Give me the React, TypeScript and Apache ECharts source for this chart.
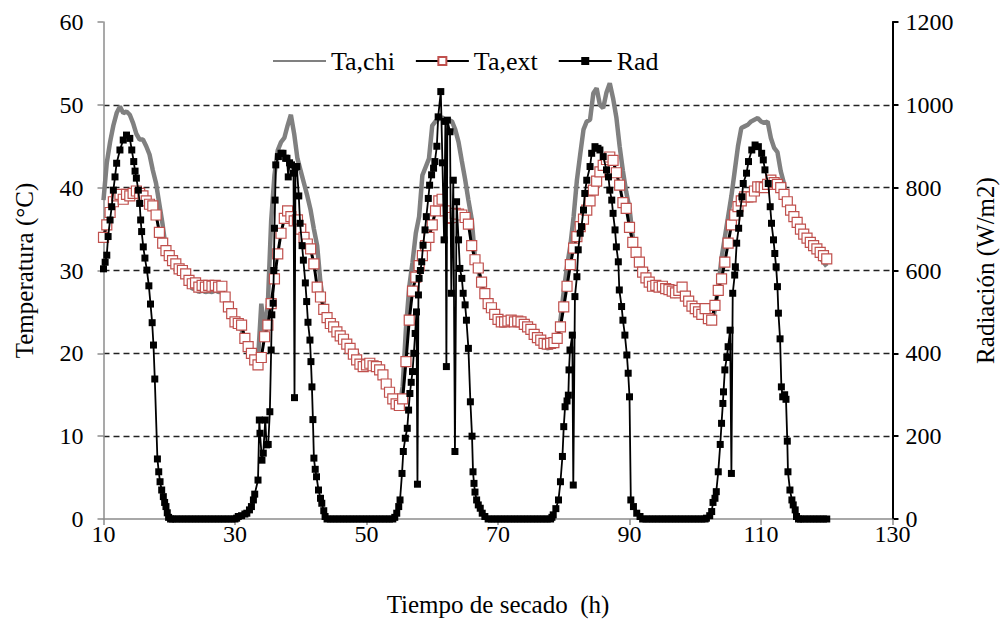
import React, { useEffect, useRef } from "react";
import * as echarts from "echarts";

// ---------- DATA ----------
const T_START = 10; // h
const T_STEP = 0.5; // h, sampling of the temperature series

// Ta,chi (°C) every 0.5 h from 10 h to 120 h
const taChi = [
  38.5, 43.0, 45.5, 47.5, 49.0, 49.8, 49.0, 49.2, 48.8, 47.8,
  46.5, 45.8, 45.8, 45.0, 44.0, 42.1, 40.5, 38.0, 35.5, 32.5,
  31.3, 30.8, 30.3, 29.8, 29.6, 29.2, 28.3, 27.8, 27.9, 27.4,
  27.6, 27.4, 27.5, 27.4, 27.6, 27.4, 27.5, 26.3, 25.2, 24.4,
  23.4, 23.1, 22.9, 21.4, 20.4, 19.7, 19.0, 19.2, 26.0, 22.5,
  26.0, 36.0, 41.5, 44.5, 45.5, 46.0, 47.5, 48.8, 46.5, 43.5,
  42.0, 40.5, 39.0, 37.3, 35.0, 33.0, 28.5, 25.8, 24.3, 23.3,
  22.8, 22.2, 21.7, 21.3, 20.7, 20.2, 19.5, 18.8, 18.3, 18.0,
  18.2, 18.4, 18.1, 18.0, 17.6, 17.0, 15.9, 14.9, 14.1, 13.5,
  13.4, 16.0, 23.0, 28.0, 31.0, 34.5, 36.5, 41.5, 42.5, 43.5,
  47.5, 48.0, 48.3, 48.5, 48.0, 48.2, 48.0, 47.0, 45.5, 43.2,
  41.0, 38.5, 36.2, 31.5, 30.0, 28.3, 26.9, 25.6, 25.1, 24.3,
  23.7, 23.4, 23.4, 23.5, 23.6, 23.4, 23.5, 23.4, 23.1, 22.8,
  22.5, 21.9, 21.5, 21.2, 20.8, 20.6, 20.7, 20.8, 21.5, 24.0,
  27.5, 30.5, 33.0, 36.5, 40.9, 44.0, 47.0, 48.0, 48.2, 51.4,
  52.0, 50.0, 49.6, 51.5, 52.6, 50.8, 48.5, 45.0, 42.0, 39.5,
  37.5, 34.0, 32.0, 30.6, 29.4, 28.7, 28.2, 27.7, 27.8, 27.6,
  27.7, 27.4, 27.3, 27.1, 26.9, 27.2, 27.6, 26.5, 25.9, 25.3,
  25.0, 24.6, 24.3, 25.0, 23.8, 23.6, 25.3, 28.0, 31.5, 34.0,
  36.5, 39.0, 42.0, 45.0, 47.2, 47.4, 47.6, 48.0, 48.2, 48.4,
  48.0, 47.8, 48.0, 46.0, 44.8, 44.3, 42.0, 40.5, 38.3, 37.0,
  36.1, 35.4, 34.6, 34.0, 33.5, 33.0, 32.6, 32.2, 31.6, 31.0,
  30.5,
];

// Ta,ext (°C) every 0.5 h from 10 h to 120 h
const taExt = [
  34.0, 35.5, 37.0, 38.3, 39.0, 39.2, 38.6, 39.2, 39.0, 39.3,
  39.6, 39.3, 39.0, 38.4, 38.0, 37.8, 36.7, 34.6, 33.3, 32.4,
  31.8, 31.2, 30.8, 30.2, 30.0, 29.6, 28.8, 28.4, 28.5, 28.0,
  28.2, 28.0, 28.2, 28.1, 28.2, 28.0, 28.1, 26.8, 25.6, 24.8,
  23.8, 23.6, 23.4, 21.8, 20.8, 20.0, 19.2, 18.6, 19.5, 22.0,
  23.4, 26.0, 29.0, 32.0, 34.5, 36.3, 37.2, 36.5, 36.0, 36.1,
  35.0, 34.0, 33.2, 32.6, 30.8, 28.0, 26.8, 25.3, 24.3, 23.6,
  23.2, 22.6, 22.1, 21.7, 21.1, 20.6, 19.9, 19.2, 18.7, 18.4,
  18.6, 18.8, 18.5, 18.4, 18.0, 17.4, 16.3, 15.3, 14.5, 13.9,
  13.7, 14.5, 19.0, 24.0, 27.5, 29.2, 30.6, 31.8, 33.0, 34.0,
  35.5, 37.2, 38.4, 38.6, 37.2, 36.3, 36.4, 36.9, 36.8, 36.7,
  36.4, 35.6, 33.0, 31.3, 30.3, 28.6, 27.2, 26.0, 25.5, 24.7,
  24.1, 23.8, 23.8, 23.9, 24.0, 23.8, 23.9, 23.8, 23.5, 23.2,
  22.9, 22.3, 21.9, 21.6, 21.2, 21.1, 21.2, 21.3, 21.8, 23.2,
  25.6, 28.1, 30.7, 32.7, 34.1, 35.3, 36.2, 37.3, 38.4, 39.7,
  40.8, 41.9, 42.7, 43.4, 43.7, 43.3, 41.8, 40.3, 38.2, 37.5,
  35.2, 33.4, 32.2, 31.0, 29.8, 29.1, 28.6, 28.1, 28.2, 28.0,
  28.1, 27.8, 27.7, 27.5, 27.3, 27.6, 28.0, 26.9, 26.3, 25.7,
  25.4, 25.0, 24.7, 25.4, 24.2, 24.0, 25.8, 27.6, 29.0, 31.0,
  33.3, 35.5, 36.7, 37.7, 38.4, 38.9, 38.9, 38.9, 39.6, 40.1,
  40.1, 40.0, 40.4, 40.9, 40.6, 40.4, 40.0, 39.2, 38.3, 37.3,
  36.5, 35.8, 35.0, 34.4, 33.9, 33.4, 33.0, 32.6, 32.2, 31.8,
  31.4,
];

// Rad (W/m2): [time h, radiation]
const radDay1 = [
  [10.0, 604], [10.25, 620], [10.5, 637], [10.7, 682], [11.0, 722], [11.25, 754],
  [11.5, 794], [11.75, 826], [12.0, 859], [12.5, 891], [13.0, 915], [13.5, 927],
  [14.0, 919], [14.3, 891], [14.6, 863], [14.8, 840], [15.0, 823], [15.3, 794],
  [15.5, 762], [15.65, 722], [15.8, 694], [16.05, 657], [16.3, 630], [16.6, 601],
  [16.9, 563], [17.15, 519], [17.4, 474], [17.6, 420], [17.8, 338], [18.2, 145],
  [18.4, 114], [18.6, 90], [18.85, 70], [19.1, 54], [19.3, 40], [19.5, 30],
  [19.7, 15], [19.9, 4], [20.2, 0],
];
const radNight1 = [
  [20.5, 0], [21, 0], [21.5, 0], [22, 0], [22.5, 0], [23, 0], [23.5, 0], [24, 0],
  [24.5, 0], [25, 0], [25.5, 0], [26, 0], [26.5, 0], [27, 0], [27.5, 0], [28, 0],
  [28.5, 0], [29, 0], [29.5, 0], [30, 0],
];
const radDay2 = [
  [30.25, 2], [30.5, 6], [31.0, 8], [31.5, 12], [31.8, 14], [32.2, 22], [32.5, 30],
  [32.8, 46], [33.0, 60], [33.5, 94], [33.7, 239], [33.8, 207], [34.1, 142],
  [34.3, 159], [34.6, 239], [34.8, 179], [35.05, 180], [35.3, 259], [35.5, 408],
  [35.6, 493], [35.8, 521], [35.9, 600], [36.0, 702], [36.1, 770], [36.2, 855],
  [36.6, 875], [37.0, 883], [37.3, 883], [37.7, 871], [37.9, 871], [38.1, 826],
  [38.3, 860], [38.6, 855], [38.9, 835], [39.05, 293], [39.2, 850], [39.4, 851],
  [39.7, 780], [39.9, 714], [40.2, 660], [40.4, 625], [40.7, 570], [40.9, 525],
  [41.1, 475], [41.4, 432], [41.55, 380], [41.7, 319], [41.85, 240], [42.0, 147],
  [42.2, 120], [42.4, 102], [42.7, 70], [43.0, 50], [43.2, 38], [43.5, 20],
  [43.7, 6], [44.0, 0],
];
const radNight2 = [
  [44.5, 0], [45, 0], [45.5, 0], [46, 0], [46.5, 0], [47, 0], [47.5, 0], [48, 0],
  [48.5, 0], [49, 0], [49.5, 0], [50, 0], [50.5, 0], [51, 0], [51.5, 0], [52, 0],
  [52.5, 0], [53, 0], [53.5, 0], [54, 0],
];
const radDay3 = [
  [54.3, 4], [54.6, 14], [54.9, 30], [55.1, 46], [55.4, 110], [55.6, 163],
  [55.9, 195], [56.2, 219], [56.4, 263], [56.6, 303], [56.8, 330], [57.0, 356],
  [57.2, 400], [57.4, 448], [57.6, 500], [57.75, 84], [57.9, 541], [58.0, 581],
  [58.2, 600], [58.4, 621], [58.6, 661], [58.9, 698], [59.1, 730], [59.4, 774],
  [59.6, 806], [59.9, 831], [60.2, 847], [60.4, 863], [60.7, 900], [60.9, 971],
  [61.3, 1032], [61.55, 860], [61.8, 674], [62.0, 960], [62.15, 368], [62.3, 963],
  [62.7, 935], [62.9, 545], [63.2, 818], [63.45, 163], [63.7, 766], [64.0, 674],
  [64.2, 605], [64.5, 581], [64.7, 545], [65.0, 517], [65.2, 480], [65.5, 412],
  [65.8, 283], [66.05, 200], [66.2, 114], [66.35, 86], [66.5, 65], [66.75, 46],
  [67.0, 34], [67.3, 26], [67.6, 14], [68.0, 6], [68.5, 0],
];
const radNight3 = [
  [69, 0], [69.5, 0], [70, 0], [70.5, 0], [71, 0], [71.5, 0], [72, 0], [72.5, 0],
  [73, 0], [73.5, 0], [74, 0], [74.5, 0], [75, 0], [75.5, 0], [76, 0], [76.5, 0],
  [77, 0], [77.5, 0], [78, 0],
];
const radDay4 = [
  [78.2, 4], [78.4, 10], [78.8, 25], [79.2, 46], [79.5, 90], [79.8, 151],
  [80.0, 223], [80.2, 271], [80.5, 285], [80.7, 299], [80.8, 360], [80.95, 408],
  [81.3, 444], [81.45, 82], [81.7, 537], [82.0, 585], [82.2, 650], [82.5, 690],
  [82.7, 706], [83.0, 746], [83.2, 786], [83.5, 818], [84.0, 851], [84.25, 883],
  [84.75, 899], [85.2, 895], [85.5, 891], [86.0, 875], [86.5, 843], [86.8, 826],
  [87.0, 794], [87.3, 770], [87.5, 738], [87.8, 698], [88.0, 657], [88.3, 621],
  [88.45, 553], [88.8, 513], [89.0, 480], [89.3, 444], [89.6, 396], [89.8, 352],
  [90.0, 295], [90.2, 46], [90.6, 30], [91.1, 14], [91.6, 6], [92.0, 0],
];
const radNight4 = [
  [92.5, 0], [93, 0], [93.5, 0], [94, 0], [94.5, 0], [95, 0], [95.5, 0], [96, 0],
  [96.5, 0], [97, 0], [97.5, 0], [98, 0], [98.5, 0], [99, 0], [99.5, 0], [100, 0],
  [100.5, 0], [101, 0], [101.5, 0],
];
const radDay5 = [
  [101.7, 2], [102.2, 8], [102.5, 18], [102.7, 40], [103.0, 50], [103.2, 66],
  [103.5, 114], [103.8, 180], [104.0, 231], [104.2, 279], [104.3, 307], [104.5, 360],
  [104.8, 390], [105.0, 416], [105.3, 456], [105.5, 110], [105.7, 545], [106.0, 589],
  [106.1, 609], [106.3, 666], [106.6, 702], [106.8, 738], [107.1, 778], [107.3, 810],
  [107.8, 835], [108.1, 863], [108.6, 891], [109.1, 903], [109.6, 899], [110.1, 883],
  [110.35, 867], [110.6, 843], [111.1, 810], [111.4, 754], [111.6, 714], [111.9, 674],
  [112.1, 641], [112.3, 609], [112.5, 561], [112.65, 497], [112.9, 435], [113.1, 319],
  [113.3, 295], [113.6, 300], [113.8, 289], [114.0, 188], [114.1, 114], [114.4, 70],
  [114.7, 46], [114.9, 34], [115.2, 22], [115.4, 6], [115.7, 0],
];
const radNight5 = [
  [116, 0], [116.5, 0], [117, 0], [117.5, 0], [118, 0], [118.5, 0], [119, 0],
  [119.5, 0], [120, 0],
];

const X_MIN = 10, X_MAX = 130, X_INTERVAL = 20;
const T_MIN = 0, T_MAX = 60, T_INTERVAL = 10;
const R_MIN = 0, R_MAX = 1200, R_INTERVAL = 200;

const SERIF = "Liberation Serif";

export default function App() {
  const ref = useRef<HTMLDivElement>(null);

  useEffect(() => {
    if (!ref.current) return;
    const chart = echarts.init(ref.current, undefined, { renderer: "svg" });

    const withTime = (vals: number[]) => vals.map((v, i) => [T_START + i * T_STEP, v]);
    const radAll = [
      ...radDay1, ...radNight1, ...radDay2, ...radNight2, ...radDay3,
      ...radNight3, ...radDay4, ...radNight4, ...radDay5, ...radNight5,
    ];

    const LABEL_SIZE = 24;
    const NAME_SIZE = 25;

    chart.setOption({
      animation: false,
      backgroundColor: "#fff",
      textStyle: { fontFamily: SERIF, color: "#000" },
      grid: {
        left: 103.5,
        right: 112.5,
        top: 22,
        bottom: 101,
        containLabel: false,
        outerBoundsMode: "none",
      },
      legend: {
        left: 272,
        top: 48,
        padding: 0,
        itemWidth: 53,
        itemHeight: 10,
        itemGap: 20,
        textStyle: { color: "#000", fontFamily: SERIF, fontSize: 26 },
        data: [
          { name: "Ta,chi", itemStyle: { opacity: 0 } },
          { name: "Ta,ext" },
          { name: "Rad" },
        ],
      },
      xAxis: {
        type: "value",
        min: X_MIN,
        max: X_MAX,
        interval: X_INTERVAL,
        name: "Tiempo de secado  (h)",
        nameLocation: "middle",
        nameGap: 73,
        nameTextStyle: { color: "#000", fontFamily: SERIF, fontSize: NAME_SIZE },
        axisLine: { lineStyle: { color: "#8c8c8c", width: 1.5 } },
        axisTick: { show: true, inside: false, length: 6, lineStyle: { color: "#8c8c8c", width: 1.5 } },
        axisLabel: { color: "#000", fontFamily: SERIF, fontSize: LABEL_SIZE, margin: 3 },
        splitLine: { show: false },
      },
      yAxis: [
        {
          type: "value",
          min: T_MIN,
          max: T_MAX,
          interval: T_INTERVAL,
          name: "Temperatura (°C)",
          nameLocation: "middle",
          nameRotate: 90,
          nameGap: 67,
          nameTextStyle: { color: "#000", fontFamily: SERIF, fontSize: NAME_SIZE },
          axisLine: { show: true, lineStyle: { color: "#8c8c8c", width: 1.5 } },
          axisTick: { show: true, length: 6, lineStyle: { color: "#8c8c8c", width: 1.5 } },
          axisLabel: { color: "#000", fontFamily: SERIF, fontSize: LABEL_SIZE, margin: 20 },
          splitLine: {
            show: true,
            showMinLine: false,
            showMaxLine: false,
            lineStyle: { color: "#222", type: [6, 4], width: 1.3 },
          },
        },
        {
          type: "value",
          min: R_MIN,
          max: R_MAX,
          interval: R_INTERVAL,
          position: "right",
          name: "Radiación (W/m2)",
          nameLocation: "middle",
          nameRotate: 90,
          nameGap: 80,
          nameTextStyle: { color: "#000", fontFamily: SERIF, fontSize: NAME_SIZE },
          axisLine: { show: true, lineStyle: { color: "#000", width: 2 } },
          axisTick: { show: true, length: 6, lineStyle: { color: "#000", width: 2 } },
          axisLabel: {
            color: "#000",
            fontFamily: SERIF,
            fontSize: LABEL_SIZE,
            margin: 13,
            formatter: (v: number) => String(v),
          },
          splitLine: { show: false },
        },
      ],
      series: [
        {
          name: "Ta,chi",
          type: "line",
          yAxisIndex: 0,
          data: withTime(taChi),
          symbol: "none",
          lineStyle: { color: "#808080", width: 4.5 },
          itemStyle: { color: "#808080" },
          z: 1,
        },
        {
          name: "Ta,ext",
          type: "line",
          yAxisIndex: 0,
          data: withTime(taExt),
          symbol: "rect",
          symbolSize: 10,
          showAllSymbol: true,
          lineStyle: { color: "#000", width: 3 },
          itemStyle: { color: "#fff", borderColor: "#c0504d", borderWidth: 1.2 },
          z: 2,
        },
        {
          name: "Rad",
          type: "line",
          yAxisIndex: 1,
          data: radAll,
          symbol: "rect",
          symbolSize: 7,
          showAllSymbol: true,
          lineStyle: { color: "#000", width: 1.8 },
          itemStyle: { color: "#000" },
          z: 3,
        },
      ],
    });

    return () => chart.dispose();
  }, []);

  return (
    <div
      ref={ref}
      style={{ position: "fixed", left: 0, top: 0, width: 1005, height: 620, background: "#fff" }}
    />
  );
}
